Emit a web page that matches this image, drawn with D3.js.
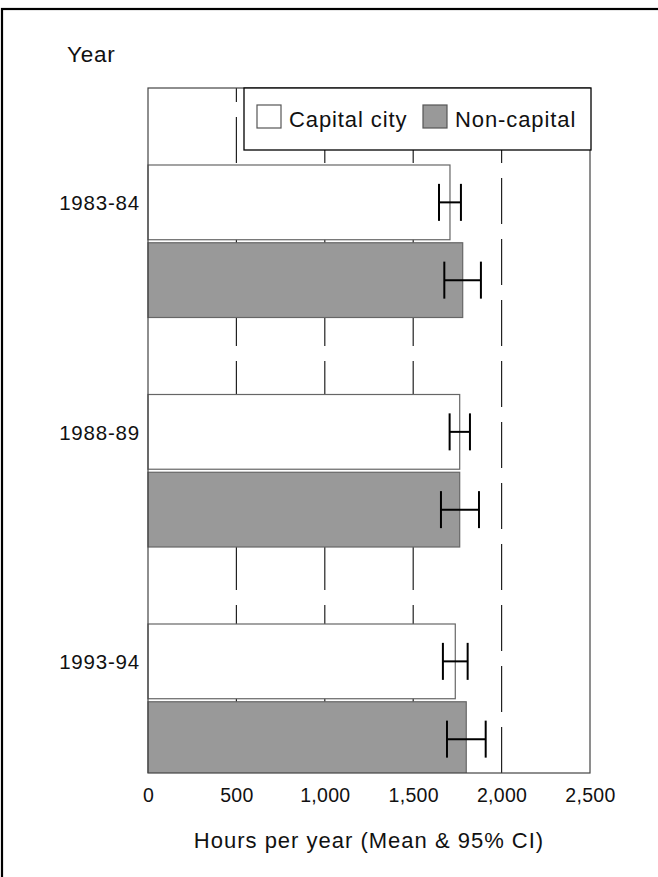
<!DOCTYPE html>
<html>
<head>
<meta charset="utf-8">
<script src="https://cdn.jsdelivr.net/npm/d3@7"></script>
<style>
  html, body { margin: 0; padding: 0; background: #fff; }
  svg { display: block; }
  text { font-family: "Liberation Sans", Arial, Helvetica, sans-serif; fill: #111; }
</style>
</head>
<body>
<svg id="chart" width="658" height="877"></svg>
<script>
// Working hours by survey period, capital city vs. non-capital
const years = ["1983-84", "1988-89", "1993-94"];
const seriesNames = ["Capital city", "Non-capital"];
const capitalMean = [1708, 1763, 1738];
const capitalLow  = [1646, 1706, 1668];
const capitalHigh = [1770, 1821, 1808];
const nonCapitalMean = [1780, 1763, 1800];
const nonCapitalLow  = [1676, 1657, 1691];
const nonCapitalHigh = [1883, 1872, 1910];
const xTicks = [0, 500, 1000, 1500, 2000, 2500];
const gridValues = [500, 1000, 1500, 2000];

const rows = [];
years.forEach((y, i) => {
  rows.push({ year: y, series: seriesNames[0], mean: capitalMean[i], lo: capitalLow[i], hi: capitalHigh[i] });
  rows.push({ year: y, series: seriesNames[1], mean: nonCapitalMean[i], lo: nonCapitalLow[i], hi: nonCapitalHigh[i] });
});

const svg = d3.select("#chart");
const plot = { left: 148, right: 590, top: 88, bottom: 773 };

// outer frame (continues past the right and bottom edges)
svg.append("rect")
  .attr("x", 2).attr("y", 9)
  .attr("width", 700).attr("height", 900)
  .attr("fill", "none").attr("stroke", "#000").attr("stroke-width", 2.2);

const x = d3.scaleLinear().domain([0, 2500]).range([plot.left, plot.right]);
// each year band: an empty gap on top, then the two bars
const yGroup = d3.scaleBand().domain(years).range([plot.top, plot.top + 3 * 229.5]).padding(0);
const bw = yGroup.bandwidth();
const ySeries = d3.scaleBand().domain(seriesNames)
  .range([bw * 0.3355, bw]).paddingInner(0.039).paddingOuter(0);
const fill = d3.scaleOrdinal().domain(seriesNames).range(["#ffffff", "#999999"]);

svg.append("defs").append("clipPath").attr("id", "plotClip")
  .append("rect")
  .attr("x", plot.left - 2).attr("y", plot.top)
  .attr("width", plot.right - plot.left + 4).attr("height", plot.bottom - plot.top);

// dashed reference lines, drawn behind the bars
svg.append("g").attr("clip-path", "url(#plotClip)")
  .selectAll("line").data(gridValues).join("line")
  .attr("x1", d => x(d)).attr("x2", d => x(d))
  .attr("y1", plot.bottom).attr("y2", plot.top - 10)
  .attr("stroke", "#222").attr("stroke-width", 1.2)
  .attr("stroke-dasharray", "46,15");

// bars
const barY = d => yGroup(d.year) + ySeries(d.series);
svg.append("g").attr("clip-path", "url(#plotClip)")
  .selectAll("rect").data(rows).join("rect")
  .attr("x", x(0))
  .attr("y", barY)
  .attr("width", d => x(d.mean) - x(0))
  .attr("height", ySeries.bandwidth())
  .attr("fill", d => fill(d.series))
  .attr("stroke", "#666").attr("stroke-width", 1.2);

// plot frame
svg.append("rect")
  .attr("x", plot.left).attr("y", plot.top)
  .attr("width", plot.right - plot.left).attr("height", plot.bottom - plot.top)
  .attr("fill", "none").attr("stroke", "#444").attr("stroke-width", 1.2);

// 95% CI error bars
const eb = svg.append("g").attr("stroke", "#000").attr("stroke-width", 2).attr("fill", "none");
const capHalf = 18.5;
rows.forEach(d => {
  const cy = barY(d) + ySeries.bandwidth() / 2;
  eb.append("line").attr("x1", x(d.lo)).attr("x2", x(d.hi)).attr("y1", cy).attr("y2", cy);
  eb.append("line").attr("x1", x(d.lo)).attr("x2", x(d.lo)).attr("y1", cy - capHalf).attr("y2", cy + capHalf);
  eb.append("line").attr("x1", x(d.hi)).attr("x2", x(d.hi)).attr("y1", cy - capHalf).attr("y2", cy + capHalf);
});

// x axis labels
const xAxis = d3.axisBottom(x).tickValues(xTicks).tickFormat(d3.format(",")).tickSize(0).tickPadding(0);
const gx = svg.append("g").attr("transform", `translate(0,${plot.bottom})`).call(xAxis);
gx.select(".domain").remove();
gx.selectAll("text")
  .attr("y", 29).attr("dy", 0)
  .style("font-size", "19.5px")
  .style("letter-spacing", "0.3px")
  .style("font-family", "'Liberation Sans', Arial, sans-serif")
  .attr("fill", "#111");

svg.append("text")
  .attr("x", (plot.left + plot.right) / 2).attr("y", 848)
  .attr("text-anchor", "middle")
  .style("font-size", "22px").style("letter-spacing", "1px")
  .text("Hours per year (Mean & 95% CI)");

// year labels
svg.append("g").selectAll("text").data(years).join("text")
  .attr("x", 140)
  .attr("y", d => yGroup(d) + ySeries(seriesNames[0]) + ySeries.bandwidth() / 2 + 8)
  .attr("text-anchor", "end")
  .style("font-size", "20.5px").style("letter-spacing", "0.8px")
  .text(d => d);

svg.append("text")
  .attr("x", 67).attr("y", 62)
  .style("font-size", "22.5px").style("letter-spacing", "0.8px")
  .text("Year");

// legend
const lg = svg.append("g");
lg.append("rect")
  .attr("x", 244).attr("y", plot.top)
  .attr("width", plot.right - 244 + 1).attr("height", 62)
  .attr("fill", "#fff").attr("stroke", "#000").attr("stroke-width", 1.3);
const legendX = [257, 423];
seriesNames.forEach((s, i) => {
  lg.append("rect")
    .attr("x", legendX[i]).attr("y", 105)
    .attr("width", 24).attr("height", 23)
    .attr("fill", fill(s)).attr("stroke", "#555").attr("stroke-width", 1.2);
  lg.append("text")
    .attr("x", legendX[i] + 32).attr("y", 127)
    .style("font-size", "22px").style("letter-spacing", "0.9px")
    .text(s);
});
</script>
</body>
</html>
